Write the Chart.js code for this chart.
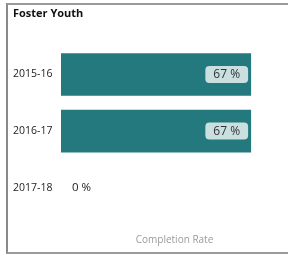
<!DOCTYPE html>
<html>
<head>
<meta charset="utf-8">
<script src="https://cdn.jsdelivr.net/npm/chart.js@4"></script>
<style>
  html,body{margin:0;padding:0;background:#fff;}
  .box{position:absolute;left:6px;top:3px;width:280px;height:247px;
       border-left:2px solid #8a8a8a;border-top:2px solid #9a9a9a;border-bottom:2px solid #9a9a9a;}
  .box canvas{display:block;}
</style>
</head>
<body>
<div class="box"><canvas id="c" width="280" height="247"></canvas></div>
<script>
// ---- datos ----
const TITULO   = 'Foster Youth';
const EJE_X    = 'Completion Rate';
const anios    = ['2015-16', '2016-17', '2017-18'];
const tasas    = [67, 67, 0];
const EJE_MAX  = 80;

const TEAL = '#24797f';

// etiquetas de valor (caja clara dentro del final de la barra, texto suelto si es 0)
const etiquetas = {
  id: 'etiquetas',
  afterDatasetsDraw(chart){
    const ctx = chart.ctx;
    const meta = chart.getDatasetMeta(0);
    meta.data.forEach((bar, i) => {
      const v = tasas[i];
      const txt = v + ' %';
      ctx.save();
      ctx.textBaseline = 'middle';
      if(v > 0){
        ctx.font = '500 12px "Open Sans"';
        const w = ctx.measureText(txt).width + 16, h = 17;
        const x = bar.x - 3 - w, y = bar.y - h/2;
        ctx.fillStyle = '#c9dfe0';
        ctx.beginPath();
        ctx.roundRect(x, y, w, h, 4);
        ctx.fill();
        ctx.fillStyle = '#333';
        ctx.textAlign = 'center';
        ctx.fillText(txt, x + w/2, bar.y + 0.5);
      }else{
        ctx.font = '11.5px "Open Sans"';
        ctx.fillStyle = '#222';
        ctx.textAlign = 'left';
        ctx.fillText(txt, bar.base + 11, bar.y);
      }
      ctx.restore();
    });
  }
};

new Chart(document.getElementById('c'), {
  type: 'bar',
  data: {
    labels: anios,
    datasets: [{ data: tasas, backgroundColor: TEAL, borderWidth: 0,
                 categoryPercentage: 1, barPercentage: 0.754 }]
  },
  options: {
    indexAxis: 'y',
    responsive: false,
    animation: false,
    layout: { padding: { left: 5, right: 0, top: 0, bottom: 0 } },
    plugins: {
      legend: { display: false },
      tooltip: { enabled: false },
      title: { display: true, text: TITULO, align: 'start', color: '#111',
               font: { family: 'Open Sans', size: 11, weight: 'bold' },
               padding: { top: 2, bottom: 26 } }
    },
    scales: {
      x: {
        min: 0, max: EJE_MAX,
        grid: { display: false, drawTicks: false },
        border: { display: false },
        ticks: { display: false },
        title: { display: true, text: EJE_X, color: '#9a9a9a',
                 font: { family: 'Open Sans', size: 10 },
                 padding: { top: 18, bottom: 6 } }
      },
      y: {
        grid: { display: false, drawTicks: false },
        border: { display: false },
        ticks: { color: '#222', crossAlign: 'far', padding: 0,
                 font: { family: 'Open Sans', size: 10.5 } },
        afterFit: s => { s.width = 48; }
      }
    }
  },
  plugins: [etiquetas]
});
</script>
</body>
</html>
